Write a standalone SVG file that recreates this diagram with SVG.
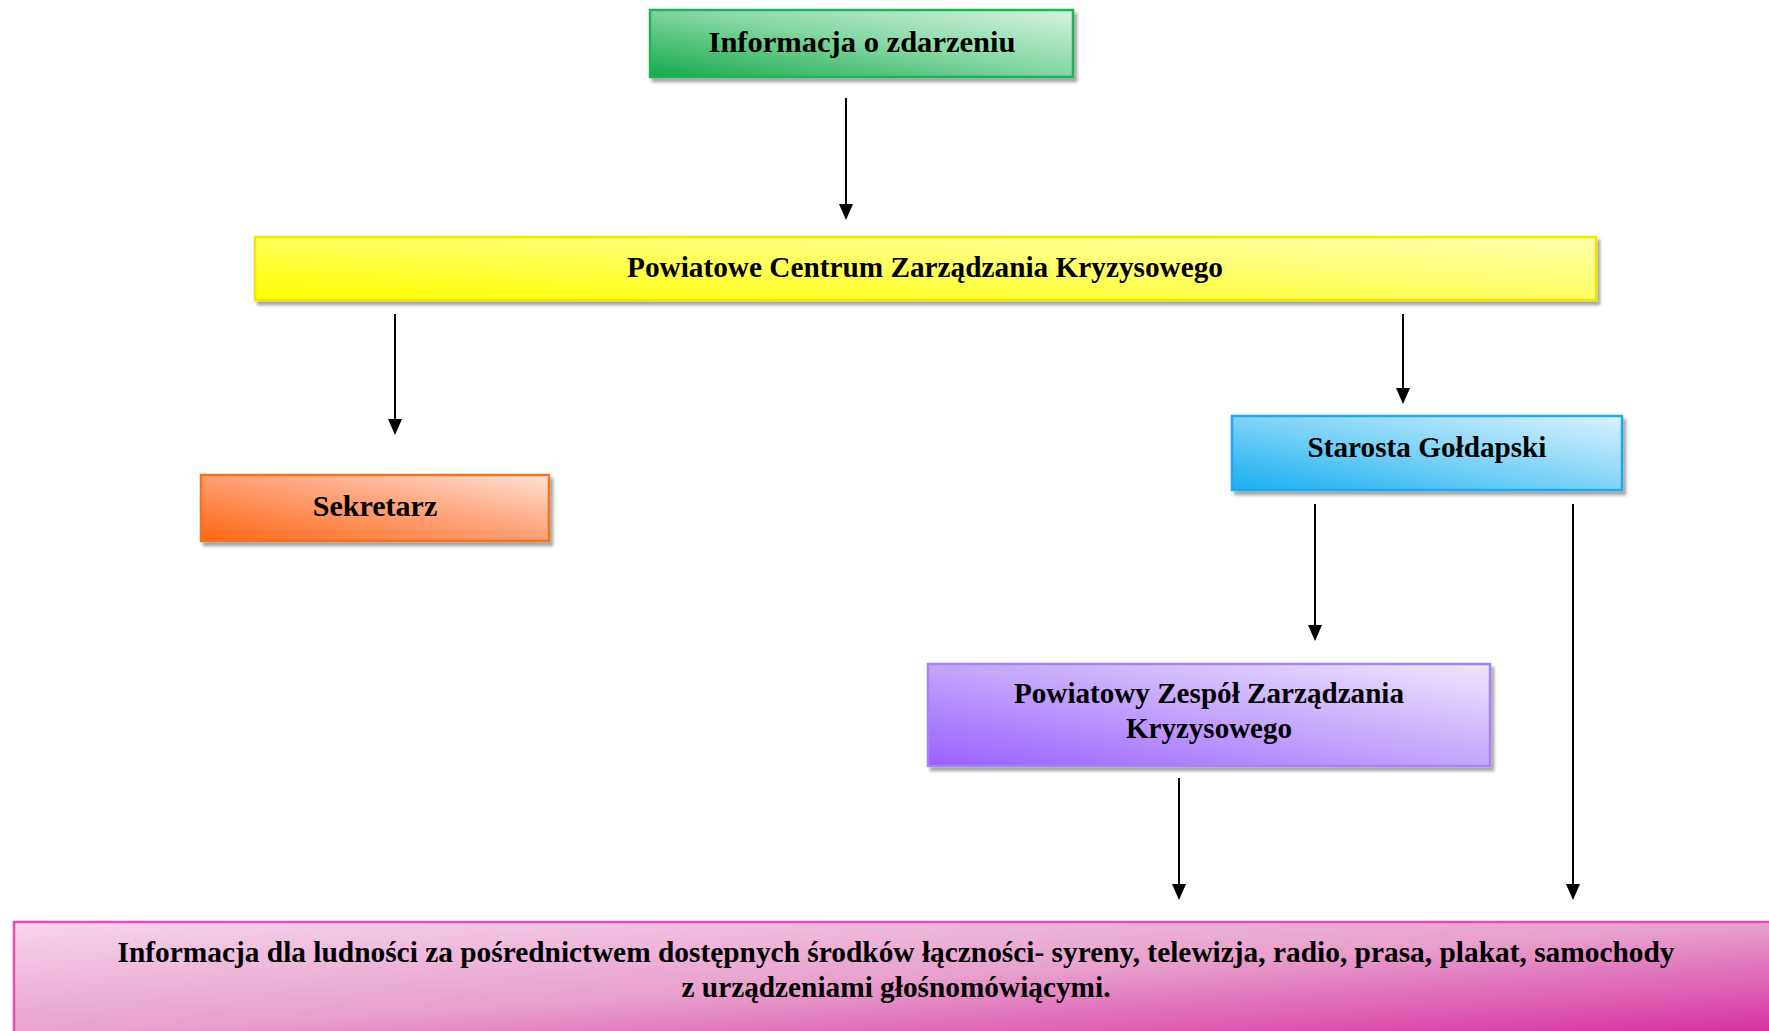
<svg xmlns="http://www.w3.org/2000/svg" width="1769" height="1031" viewBox="0 0 1769 1031">
<defs>
<linearGradient id="gGreen" x1="0" y1="1" x2="1" y2="0"><stop offset="0" stop-color="#16a84a"/><stop offset="0.55" stop-color="#8ad9a8"/><stop offset="1" stop-color="#d4f3e0"/></linearGradient>
<linearGradient id="gYellow" x1="0" y1="1" x2="1" y2="0"><stop offset="0" stop-color="#ffff00"/><stop offset="0.6" stop-color="#ffff70"/><stop offset="1" stop-color="#ffffb0"/></linearGradient>
<linearGradient id="gOrange" x1="0" y1="1" x2="1" y2="0"><stop offset="0" stop-color="#ff6614"/><stop offset="0.55" stop-color="#ffa47c"/><stop offset="1" stop-color="#ffe0d0"/></linearGradient>
<linearGradient id="gBlue" x1="0" y1="1" x2="1" y2="0"><stop offset="0" stop-color="#18aef0"/><stop offset="0.55" stop-color="#88d6f8"/><stop offset="1" stop-color="#d8f2fe"/></linearGradient>
<linearGradient id="gPurple" x1="0" y1="1" x2="1" y2="0"><stop offset="0" stop-color="#9860ff"/><stop offset="0.55" stop-color="#c8acfc"/><stop offset="1" stop-color="#efe6fe"/></linearGradient>
<linearGradient id="gPink" x1="0" y1="0" x2="1" y2="1"><stop offset="0" stop-color="#f6d4ec"/><stop offset="0.5" stop-color="#e8a0cc"/><stop offset="1" stop-color="#d42c9e"/></linearGradient>
<filter id="sh" x="-5%" y="-20%" width="110%" height="150%"><feDropShadow dx="3" dy="4" stdDeviation="1.5" flood-color="#000" flood-opacity="0.35"/></filter>
</defs>
<style>
.t{font-family:"Liberation Serif","Times New Roman",serif;font-weight:bold;font-size:30px;fill:#000;text-anchor:middle}
.c{stroke:#000;stroke-width:2;fill:none}
</style>
<rect width="1769" height="1031" fill="#fff"/>
<g id="connectors">
<line class="c" x1="846" y1="98" x2="846" y2="205"/><path d="M839,204 L853,204 L846,220 Z"/>
<line class="c" x1="395" y1="314" x2="395" y2="420"/><path d="M388,419 L402,419 L395,435 Z"/>
<line class="c" x1="1403" y1="314" x2="1403" y2="389"/><path d="M1396,388 L1410,388 L1403,404 Z"/>
<line class="c" x1="1315" y1="504" x2="1315" y2="626"/><path d="M1308,625 L1322,625 L1315,641 Z"/>
<line class="c" x1="1573" y1="504" x2="1573" y2="885"/><path d="M1566,884 L1580,884 L1573,900 Z"/>
<line class="c" x1="1179" y1="778" x2="1179" y2="885"/><path d="M1172,884 L1186,884 L1179,900 Z"/>
</g>
<g id="n-info">
<rect x="650" y="10" width="423" height="67" fill="url(#gGreen)" stroke="#22b358" stroke-width="2.5" filter="url(#sh)"/>
<text class="t" x="862" y="52" textLength="307" lengthAdjust="spacingAndGlyphs">Informacja o zdarzeniu</text>
</g>
<g id="n-pczk">
<rect x="255" y="237" width="1341" height="63" fill="url(#gYellow)" stroke="#f2e600" stroke-width="2.5" filter="url(#sh)"/>
<text class="t" x="925" y="277" textLength="596" lengthAdjust="spacingAndGlyphs">Powiatowe Centrum Zarządzania Kryzysowego</text>
</g>
<g id="n-sekretarz">
<rect x="201" y="475" width="348" height="66" fill="url(#gOrange)" stroke="#f07424" stroke-width="2.5" filter="url(#sh)"/>
<text class="t" x="375" y="516">Sekretarz</text>
</g>
<g id="n-starosta">
<rect x="1232" y="416" width="390" height="74" fill="url(#gBlue)" stroke="#20a8ea" stroke-width="2.5" filter="url(#sh)"/>
<text class="t" x="1427" y="457" textLength="239" lengthAdjust="spacingAndGlyphs">Starosta Gołdapski</text>
</g>
<g id="n-pzzk">
<rect x="928" y="664" width="562" height="102" fill="url(#gPurple)" stroke="#a684f4" stroke-width="2.5" filter="url(#sh)"/>
<text class="t" x="1209" y="703" textLength="390" lengthAdjust="spacingAndGlyphs">Powiatowy Zespół Zarządzania</text>
<text class="t" x="1209" y="738" textLength="166" lengthAdjust="spacingAndGlyphs">Kryzysowego</text>
</g>
<g id="n-ludnosc">
<rect x="14" y="922" width="1770" height="115" fill="url(#gPink)" stroke="#e24fae" stroke-width="2.5"/>
<text class="t" x="896" y="962" textLength="1557" lengthAdjust="spacingAndGlyphs">Informacja dla ludności za pośrednictwem dostępnych środków łączności- syreny, telewizja, radio, prasa, plakat, samochody</text>
<text class="t" x="896" y="997" textLength="429" lengthAdjust="spacingAndGlyphs">z urządzeniami głośnomówiącymi.</text>
</g>
</svg>
